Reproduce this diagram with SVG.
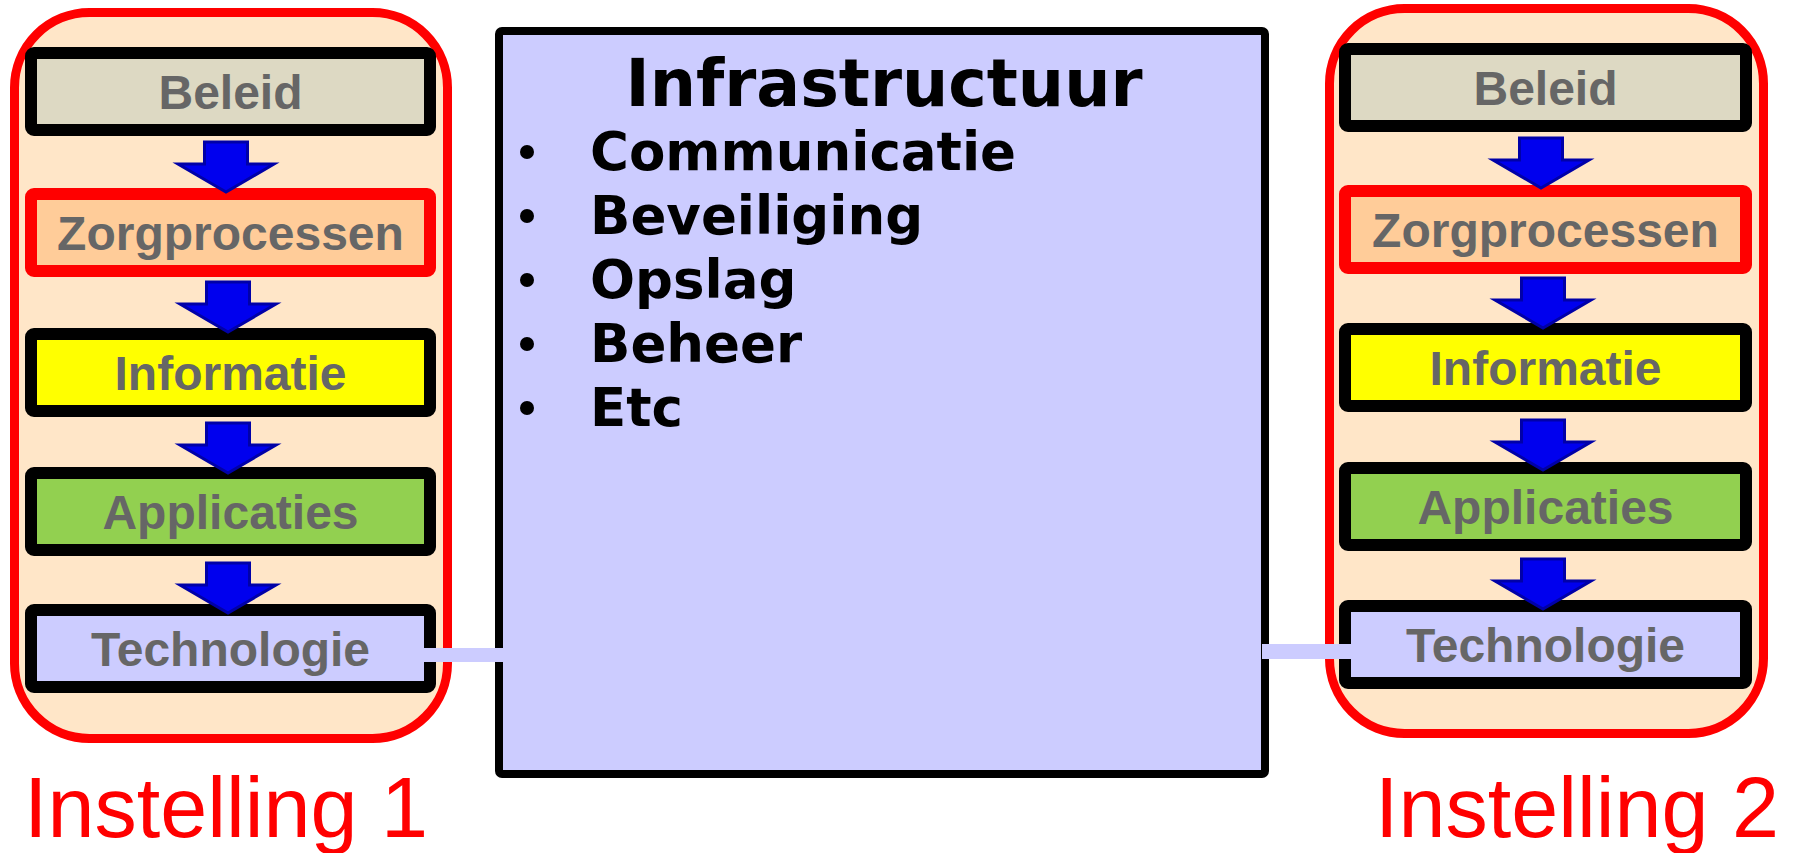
<svg xmlns="http://www.w3.org/2000/svg" width="1794" height="853" viewBox="0 0 1794 853">
<style>
.cont{fill:#FFE6C8;stroke:#FF0000;stroke-width:9}
.box{stroke:#000000;stroke-width:12}
.box.red{stroke:#FF0000}
.lbl{font-family:"Liberation Sans",Arial,sans-serif;font-weight:bold;font-size:48px;fill:#666666;text-anchor:middle}
.inst{font-family:"Liberation Sans",Arial,sans-serif;font-size:84.5px;fill:#FF0000}
.infra{font-family:"DejaVu Sans",Verdana,sans-serif;font-weight:bold;fill:#000000}
.arr{fill:#0000EE;stroke:#0000A8;stroke-width:3;stroke-linejoin:miter}
.bar{fill:#CCCCFF}
</style>
<defs>
<path id="arrow" class="arr" d="M-21.5,0 H21.5 V22 H48 L0,50 L-48,22 H-21.5 Z"/>
</defs>
<rect width="1794" height="853" fill="#FFFFFF"/>

<g id="instelling1">
<rect class="cont" x="14.5" y="12.5" width="433" height="726" rx="75" ry="75"/>
<g id="l-beleid"><rect class="box" x="31" y="53" width="399" height="77" rx="3" fill="#DDD9C3"/><text class="lbl" x="230.5" y="109">Beleid</text></g>
<g id="l-zorg"><rect class="box red" x="31" y="194" width="399" height="77" rx="3" fill="#FFCC99"/><text class="lbl" x="230.5" y="250">Zorgprocessen</text></g>
<g id="l-info"><rect class="box" x="31" y="334" width="399" height="77" rx="3" fill="#FFFF00"/><text class="lbl" x="230.5" y="390">Informatie</text></g>
<g id="l-app"><rect class="box" x="31" y="473" width="399" height="77" rx="3" fill="#92D050"/><text class="lbl" x="230.5" y="529">Applicaties</text></g>
<g id="l-tech"><rect class="box" x="31" y="610" width="399" height="77" rx="3" fill="#CCCCFF"/><text class="lbl" x="230.5" y="666">Technologie</text></g>
<text class="inst" x="24" y="837">Instelling 1</text>
</g>

<g id="infrastructuur">
<rect x="499" y="31" width="766" height="743" rx="3" fill="#CCCCFF" stroke="#000000" stroke-width="8"/>
<text class="infra" x="884" y="106" font-size="65" text-anchor="middle">Infrastructuur</text>
<g fill="#000000">
<circle cx="527" cy="152" r="7"/>
<circle cx="527" cy="216" r="7"/>
<circle cx="527" cy="280" r="7"/>
<circle cx="527" cy="344" r="7"/>
<circle cx="527" cy="408" r="7"/>
</g>
<text class="infra" font-size="53" x="590" y="170">Communicatie</text>
<text class="infra" font-size="53" x="590" y="234">Beveiliging</text>
<text class="infra" font-size="53" x="590" y="298">Opslag</text>
<text class="infra" font-size="53" x="590" y="362">Beheer</text>
<text class="infra" font-size="53" x="590" y="426">Etc</text>
</g>

<g id="instelling2">
<rect class="cont" x="1329.5" y="8.5" width="434" height="725" rx="75" ry="75"/>
<g id="r-beleid"><rect class="box" x="1345" y="49" width="401" height="77" rx="3" fill="#DDD9C3"/><text class="lbl" x="1545.5" y="105">Beleid</text></g>
<g id="r-zorg"><rect class="box red" x="1345" y="191" width="401" height="77" rx="3" fill="#FFCC99"/><text class="lbl" x="1545.5" y="247">Zorgprocessen</text></g>
<g id="r-info"><rect class="box" x="1345" y="329" width="401" height="77" rx="3" fill="#FFFF00"/><text class="lbl" x="1545.5" y="385">Informatie</text></g>
<g id="r-app"><rect class="box" x="1345" y="468" width="401" height="77" rx="3" fill="#92D050"/><text class="lbl" x="1545.5" y="524">Applicaties</text></g>
<g id="r-tech"><rect class="box" x="1345" y="606" width="401" height="77" rx="3" fill="#CCCCFF"/><text class="lbl" x="1545.5" y="662">Technologie</text></g>
<text class="inst" x="1375" y="837">Instelling 2</text>
</g>

<g id="connectors">
<use href="#arrow" x="226" y="142"/>
<use href="#arrow" x="228" y="282"/>
<use href="#arrow" x="228" y="423"/>
<use href="#arrow" x="228" y="563"/>
<use href="#arrow" x="1541" y="138"/>
<use href="#arrow" x="1543" y="278"/>
<use href="#arrow" x="1543" y="420"/>
<use href="#arrow" x="1543" y="559"/>
<rect class="bar" x="424" y="648" width="81" height="14"/>
<rect class="bar" x="1262" y="644" width="90" height="15"/>
</g>
</svg>
